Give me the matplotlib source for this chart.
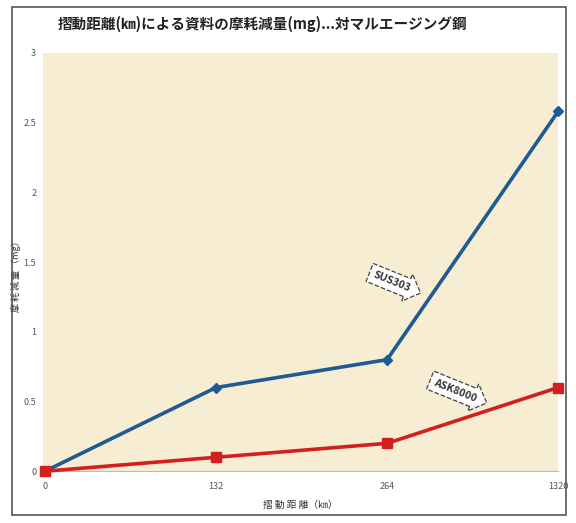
import matplotlib.pyplot as plt
from matplotlib.patches import Rectangle

plt.rcParams['font.family'] = ['Noto Sans CJK JP', 'DejaVu Sans']

# data
distance_labels = ["0", "132", "264", "1320"]
sus303 = [0, 0.6, 0.8, 2.58]
ask8000 = [0, 0.1, 0.2, 0.6]
y_ticks = [0, 0.5, 1, 1.5, 2, 2.5, 3]

fig = plt.figure(figsize=(5.76, 5.23), dpi=100)
fig.patch.set_facecolor("white")

# outer frame of the scanned chart
fig.patches.append(Rectangle((0.02, 0.015), 0.963, 0.972, transform=fig.transFigure,
                             fill=False, edgecolor="#555555", linewidth=1.2))

ax = fig.add_axes([0.075, 0.099, 0.894, 0.80])
ax.set_facecolor("#F6EDD3")

x = range(len(distance_labels))
ax.plot(x, sus303, color="#1F5A92", linewidth=2.6, marker="D", markersize=5,
        clip_on=False, zorder=3)
ax.plot(x, ask8000, color="#D41F1F", linewidth=2.6, marker="s", markersize=7,
        clip_on=False, zorder=4)

ax.set_xlim(-0.01, 3.0)
ax.set_ylim(0, 3)
ax.set_xticks(list(x))
ax.set_xticklabels(distance_labels)
ax.set_yticks(y_ticks)
ax.set_yticklabels([f"{v:g}" for v in y_ticks])
ax.tick_params(axis="y", length=0, labelsize=6.5, labelcolor="#555555", pad=5)
ax.tick_params(axis="x", length=0, labelsize=6.5, labelcolor="#555555", pad=8)
for side in ["top", "right", "left"]:
    ax.spines[side].set_visible(False)
ax.spines["bottom"].set_color("#bbbbbb")
ax.spines["bottom"].set_linewidth(0.8)

ax.set_xlabel("摺 動 距 離（㎞）", fontsize=7, color="#333333", labelpad=6)
ax.set_ylabel("摩 耗 減 量 （mg）", fontsize=6.5, color="#333333")
ax.yaxis.set_label_coords(-0.043, 0.47)

fig.text(0.455, 0.955, "摺動距離(㎞)による資料の摩耗減量(mg)...対マルエージング鋼",
         ha="center", va="center", fontsize=10.5, fontweight="bold", color="#222222")

# callout labels
box = dict(boxstyle="rarrow,pad=0.45", facecolor="white", edgecolor="#444444",
           linestyle="--", linewidth=0.9)
ax.text(2.03, 1.36, "SUS303", rotation=-22, ha="center", va="center",
        fontsize=7.5, fontweight="bold", color="#333333", bbox=box, zorder=5)
ax.text(2.40, 0.58, "ASK8000", rotation=-22, ha="center", va="center",
        fontsize=7.5, fontweight="bold", color="#333333", bbox=box, zorder=5)

fig.savefig("out.png", dpi=100)
